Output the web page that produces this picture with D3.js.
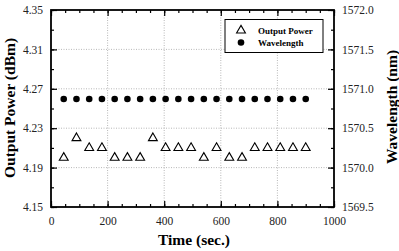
<!DOCTYPE html>
<html>
<head>
<meta charset="utf-8">
<script src="https://cdn.jsdelivr.net/npm/d3@7"></script>
<style>
  body { margin: 0; background: #fff; }
  svg { display: block; font-family: "Liberation Serif", "Times New Roman", serif; }
</style>
</head>
<body>
<svg id="chart" width="399" height="251"></svg>
<script>
// time stamps (sec.)
const times = [45, 90, 135, 180, 225, 270, 315, 360, 405, 450, 495, 540, 585, 630, 675, 720, 765, 810, 855, 900]
// output power (dBm)
const power = [4.20, 4.22, 4.21, 4.21, 4.20, 4.20, 4.20, 4.22, 4.21, 4.21, 4.21, 4.20, 4.21, 4.20, 4.20, 4.21, 4.21, 4.21, 4.21, 4.21]
// wavelength (nm)
const wavelength = [1570.87, 1570.87, 1570.87, 1570.87, 1570.87, 1570.87, 1570.87, 1570.87, 1570.87, 1570.87,
  1570.87, 1570.87, 1570.87, 1570.87, 1570.87, 1570.87, 1570.87, 1570.87, 1570.87, 1570.87]

const xTicks = [0, 200, 400, 600, 800, 1000]
const yTicks = [4.15, 4.19, 4.23, 4.27, 4.31, 4.35]
const y2Ticks = [1569.5, 1570.0, 1570.5, 1571.0, 1571.5, 1572.0]

const m = { left: 51, right: 334, top: 10, bottom: 207 }
const svg = d3.select('#chart')

const x = d3.scaleLinear().domain([0, 1000]).range([m.left, m.right])
const y = d3.scaleLinear().domain([4.15, 4.35]).range([m.bottom, m.top])
const y2 = d3.scaleLinear().domain([1569.5, 1572.0]).range([m.bottom, m.top])

// grid
const grid = svg.append('g').attr('stroke', '#999').attr('stroke-width', 0.7).attr('stroke-dasharray', '1,1.5')
grid.selectAll('.gx').data(xTicks.slice(1, -1)).join('line')
  .attr('x1', d => x(d)).attr('x2', d => x(d)).attr('y1', m.top).attr('y2', m.bottom)
grid.selectAll('.gy').data(yTicks.slice(1, -1)).join('line')
  .attr('y1', d => y(d)).attr('y2', d => y(d)).attr('x1', m.left).attr('x2', m.right)

// axes with inward ticks
const minorX = d3.range(0, 1001, 50)
const minorY = d3.range(4.15, 4.351, 0.02)
const minorY2 = d3.range(1569.5, 1572.01, 0.25)

function axis(gen, tr) {
  return svg.append('g').attr('transform', tr).call(gen)
}
axis(d3.axisBottom(x).tickValues(xTicks).tickFormat(d3.format('d')).tickSizeInner(-6).tickSizeOuter(0).tickPadding(10), `translate(0,${m.bottom})`)
axis(d3.axisBottom(x).tickValues(minorX).tickFormat('').tickSizeInner(-3).tickSizeOuter(0), `translate(0,${m.bottom})`)
axis(d3.axisTop(x).tickValues(xTicks).tickFormat('').tickSizeInner(-6).tickSizeOuter(0), `translate(0,${m.top})`)
axis(d3.axisTop(x).tickValues(minorX).tickFormat('').tickSizeInner(-3).tickSizeOuter(0), `translate(0,${m.top})`)
axis(d3.axisLeft(y).tickValues(yTicks).tickFormat(d3.format('.2f')).tickSizeInner(-6).tickSizeOuter(0).tickPadding(8), `translate(${m.left},0)`)
axis(d3.axisLeft(y).tickValues(minorY).tickFormat('').tickSizeInner(-3).tickSizeOuter(0), `translate(${m.left},0)`)
axis(d3.axisRight(y2).tickValues(y2Ticks).tickFormat(d3.format('.1f')).tickSizeInner(-6).tickSizeOuter(0).tickPadding(8), `translate(${m.right},0)`)
axis(d3.axisRight(y2).tickValues(minorY2).tickFormat('').tickSizeInner(-3).tickSizeOuter(0), `translate(${m.right},0)`)

svg.selectAll('.domain').remove()
svg.selectAll('.tick line').attr('stroke', '#000').attr('stroke-width', 1.2)
svg.selectAll('.tick text').attr('font-size', 11.5).attr('font-family', '"Liberation Serif", serif').attr('fill', '#222')

svg.append('rect')
  .attr('x', m.left).attr('y', m.top)
  .attr('width', m.right - m.left).attr('height', m.bottom - m.top)
  .attr('fill', 'none').attr('stroke', '#000').attr('stroke-width', 1.8)

// wavelength dots
svg.append('g').selectAll('circle').data(times).join('circle')
  .attr('cx', d => x(d)).attr('cy', (d, i) => y2(wavelength[i]))
  .attr('r', 3.3).attr('fill', '#000')

// power triangles
const tri = d3.symbol().type(d3.symbolTriangle).size(34)
svg.append('g').selectAll('path').data(times).join('path')
  .attr('transform', (d, i) => `translate(${x(d)},${y(power[i])})`)
  .attr('d', tri).attr('fill', 'none').attr('stroke', '#000').attr('stroke-width', 1.1)

// legend
const lg = svg.append('g')
lg.append('rect').attr('x', 225).attr('y', 19.5).attr('width', 98).attr('height', 33)
  .attr('fill', '#fff').attr('stroke', '#000').attr('stroke-width', 1)
lg.append('path').attr('transform', 'translate(241,30.5)').attr('d', tri)
  .attr('fill', 'none').attr('stroke', '#000').attr('stroke-width', 1.1)
lg.append('circle').attr('cx', 241).attr('cy', 42.5).attr('r', 3.3).attr('fill', '#000')
lg.append('text').attr('x', 258).attr('y', 34).text('Output Power')
  .attr('font-size', 9).attr('font-weight', 'bold')
lg.append('text').attr('x', 258).attr('y', 46).text('Wavelength')
  .attr('font-size', 9).attr('font-weight', 'bold')

// axis titles
svg.append('text').attr('x', 194).attr('y', 245)
  .attr('text-anchor', 'middle').attr('font-size', 15.5).attr('font-weight', 'bold').text('Time (sec.)')
svg.append('text').attr('transform', 'translate(15,108) rotate(-90)')
  .attr('text-anchor', 'middle').attr('font-size', 15.5).attr('font-weight', 'bold').text('Output Power (dBm)')
svg.append('text').attr('transform', 'translate(397,107) rotate(-90)')
  .attr('text-anchor', 'middle').attr('font-size', 15.5).attr('font-weight', 'bold').text('Wavelength (nm)')
</script>
</body>
</html>
